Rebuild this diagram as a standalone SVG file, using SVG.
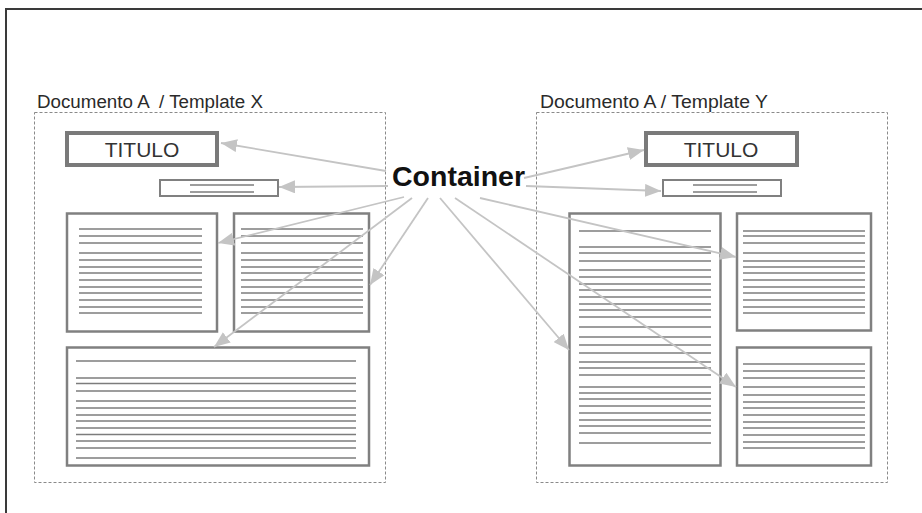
<svg xmlns="http://www.w3.org/2000/svg" width="922" height="513" viewBox="0 0 922 513">
  <style>
    .frame { fill: none; stroke: #3a3a3a; stroke-width: 2; }
    .doc { fill: none; stroke: #8a8a8a; stroke-width: 1; stroke-dasharray: 3 2; }
    .label { font-family: "Liberation Sans", Arial, sans-serif; font-size: 18px; fill: #2a2a2a; }
    .title-box { fill: #fff; stroke: #7a7a7a; stroke-width: 4; }
    .title-text { font-family: "Liberation Sans", Arial, sans-serif; font-size: 21px; fill: #333; text-anchor: middle; }
    .sub-box { fill: #fff; stroke: #808080; stroke-width: 2; }
    .block { fill: #fff; stroke: #808080; stroke-width: 2.5; }
    .rule { stroke: #7c7c7c; stroke-width: 1.4; }
    .hub { font-family: "Liberation Sans", Arial, sans-serif; font-size: 28px; font-weight: bold; fill: #111; }
    .conn { stroke: #c4c4c4; stroke-width: 1.8; fill: none; marker-end: url(#head); }
  </style>
  <defs>
    <marker id="head" markerUnits="userSpaceOnUse" markerWidth="17" markerHeight="13" refX="16" refY="6.5" orient="auto">
      <path d="M0,0 L16,6.5 L0,13 z" fill="#c4c4c4"/>
    </marker>
  </defs>

  <rect width="922" height="513" fill="#fff"/>
  <!-- outer frame: top and left edges only -->
  <path class="frame" d="M6,513 V9 H922"/>

  <!-- Template X -->
  <g id="doc-x">
    <text class="label" x="37" y="108" textLength="226" lengthAdjust="spacingAndGlyphs" xml:space="preserve">Documento A  / Template X</text>
    <rect class="doc" x="34.5" y="112.5" width="351" height="370"/>
  </g>
  <g id="x-title">
    <rect class="title-box" x="67" y="133" width="150" height="32"/>
    <text class="title-text" x="142" y="157">TITULO</text>
  </g>
  <g id="x-subtitle">
    <rect class="sub-box" x="160" y="180" width="118" height="16"/>
    <line class="rule" x1="190" y1="185" x2="254" y2="185"/>
    <line class="rule" x1="190" y1="192" x2="254" y2="192"/>
  </g>
  <g id="x-block-left">
    <rect class="block" x="67" y="213.5" width="150" height="118"/>
    <g class="rule">
      <line x1="79" y1="229" x2="202" y2="229"/>
      <line x1="79" y1="236" x2="202" y2="236"/>
      <line x1="79" y1="243" x2="202" y2="243"/>
      <line x1="79" y1="253" x2="202" y2="253"/>
      <line x1="79" y1="260" x2="202" y2="260"/>
      <line x1="79" y1="267" x2="202" y2="267"/>
      <line x1="79" y1="273" x2="202" y2="273"/>
      <line x1="79" y1="280" x2="202" y2="280"/>
      <line x1="79" y1="287" x2="202" y2="287"/>
      <line x1="79" y1="293" x2="202" y2="293"/>
      <line x1="79" y1="300" x2="202" y2="300"/>
      <line x1="79" y1="307" x2="202" y2="307"/>
      <line x1="79" y1="313" x2="202" y2="313"/>
    </g>
  </g>
  <g id="x-block-right">
    <rect class="block" x="234" y="213.5" width="135" height="118"/>
    <g class="rule">
      <line x1="241" y1="229" x2="363" y2="229"/>
      <line x1="241" y1="236" x2="363" y2="236"/>
      <line x1="241" y1="243" x2="363" y2="243"/>
      <line x1="241" y1="253" x2="363" y2="253"/>
      <line x1="241" y1="260" x2="363" y2="260"/>
      <line x1="241" y1="267" x2="363" y2="267"/>
      <line x1="241" y1="273" x2="363" y2="273"/>
      <line x1="241" y1="280" x2="363" y2="280"/>
      <line x1="241" y1="287" x2="363" y2="287"/>
      <line x1="241" y1="293" x2="363" y2="293"/>
      <line x1="241" y1="300" x2="363" y2="300"/>
      <line x1="241" y1="307" x2="363" y2="307"/>
      <line x1="241" y1="313" x2="363" y2="313"/>
    </g>
  </g>
  <g id="x-block-bottom">
    <rect class="block" x="67" y="347.5" width="302" height="118"/>
    <g class="rule">
      <line x1="76" y1="361" x2="356" y2="361"/>
      <line x1="76" y1="378" x2="356" y2="378"/>
      <line x1="76" y1="383.5" x2="356" y2="383.5"/>
      <line x1="76" y1="391" x2="356" y2="391"/>
      <line x1="76" y1="401" x2="356" y2="401"/>
      <line x1="76" y1="408" x2="356" y2="408"/>
      <line x1="76" y1="415" x2="356" y2="415"/>
      <line x1="76" y1="421" x2="356" y2="421"/>
      <line x1="76" y1="428" x2="356" y2="428"/>
      <line x1="76" y1="434.5" x2="356" y2="434.5"/>
      <line x1="76" y1="441" x2="356" y2="441"/>
      <line x1="76" y1="448" x2="356" y2="448"/>
      <line x1="76" y1="458" x2="356" y2="458"/>
    </g>
  </g>

  <!-- Template Y -->
  <g id="doc-y">
    <text class="label" x="540" y="108" textLength="228" lengthAdjust="spacingAndGlyphs">Documento A / Template Y</text>
    <rect class="doc" x="536.5" y="112.5" width="351" height="370"/>
  </g>
  <g id="y-title">
    <rect class="title-box" x="646" y="133" width="151" height="32"/>
    <text class="title-text" x="721" y="157">TITULO</text>
  </g>
  <g id="y-subtitle">
    <rect class="sub-box" x="663" y="180" width="118" height="16"/>
    <line class="rule" x1="693" y1="185" x2="757" y2="185"/>
    <line class="rule" x1="693" y1="192" x2="757" y2="192"/>
  </g>
  <g id="y-block-tall">
    <rect class="block" x="569.5" y="213.5" width="151" height="252"/>
    <g class="rule">
      <line x1="579" y1="231" x2="711" y2="231"/>
      <line x1="579" y1="247" x2="711" y2="247"/>
      <line x1="579" y1="253" x2="711" y2="253"/>
      <line x1="579" y1="261" x2="711" y2="261"/>
      <line x1="579" y1="270" x2="711" y2="270"/>
      <line x1="579" y1="277" x2="711" y2="277"/>
      <line x1="579" y1="284" x2="711" y2="284"/>
      <line x1="579" y1="290" x2="711" y2="290"/>
      <line x1="579" y1="297" x2="711" y2="297"/>
      <line x1="579" y1="304" x2="711" y2="304"/>
      <line x1="579" y1="310" x2="711" y2="310"/>
      <line x1="579" y1="317" x2="711" y2="317"/>
      <line x1="579" y1="327" x2="711" y2="327"/>
      <line x1="579" y1="337" x2="711" y2="337"/>
      <line x1="579" y1="345" x2="711" y2="345"/>
      <line x1="579" y1="353" x2="711" y2="353"/>
      <line x1="579" y1="362" x2="711" y2="362"/>
      <line x1="579" y1="368" x2="711" y2="368"/>
      <line x1="579" y1="375" x2="711" y2="375"/>
      <line x1="579" y1="387" x2="711" y2="387"/>
      <line x1="579" y1="393" x2="711" y2="393"/>
      <line x1="579" y1="399" x2="711" y2="399"/>
      <line x1="579" y1="406" x2="711" y2="406"/>
      <line x1="579" y1="413" x2="711" y2="413"/>
      <line x1="579" y1="420" x2="711" y2="420"/>
      <line x1="579" y1="426" x2="711" y2="426"/>
      <line x1="579" y1="433" x2="711" y2="433"/>
      <line x1="579" y1="443" x2="711" y2="443"/>
    </g>
  </g>
  <g id="y-block-top">
    <rect class="block" x="737" y="213.5" width="134" height="117"/>
    <g class="rule">
      <line x1="743" y1="231" x2="865" y2="231"/>
      <line x1="743" y1="236" x2="865" y2="236"/>
      <line x1="743" y1="243" x2="865" y2="243"/>
      <line x1="743" y1="253" x2="865" y2="253"/>
      <line x1="743" y1="261" x2="865" y2="261"/>
      <line x1="743" y1="267" x2="865" y2="267"/>
      <line x1="743" y1="273" x2="865" y2="273"/>
      <line x1="743" y1="280" x2="865" y2="280"/>
      <line x1="743" y1="287" x2="865" y2="287"/>
      <line x1="743" y1="293" x2="865" y2="293"/>
      <line x1="743" y1="300" x2="865" y2="300"/>
      <line x1="743" y1="307" x2="865" y2="307"/>
      <line x1="743" y1="313" x2="865" y2="313"/>
    </g>
  </g>
  <g id="y-block-bottom">
    <rect class="block" x="737" y="347.5" width="134" height="118"/>
    <g class="rule">
      <line x1="743" y1="364" x2="865" y2="364"/>
      <line x1="743" y1="371" x2="865" y2="371"/>
      <line x1="743" y1="378" x2="865" y2="378"/>
      <line x1="743" y1="387" x2="865" y2="387"/>
      <line x1="743" y1="395" x2="865" y2="395"/>
      <line x1="743" y1="402" x2="865" y2="402"/>
      <line x1="743" y1="408" x2="865" y2="408"/>
      <line x1="743" y1="415" x2="865" y2="415"/>
      <line x1="743" y1="422" x2="865" y2="422"/>
      <line x1="743" y1="428" x2="865" y2="428"/>
      <line x1="743" y1="435" x2="865" y2="435"/>
      <line x1="743" y1="442" x2="865" y2="442"/>
      <line x1="743" y1="448" x2="865" y2="448"/>
    </g>
  </g>

  <!-- connectors fanning out from the hub label -->
  <g id="connectors">
    <line class="conn" x1="386" y1="171" x2="221" y2="143"/>
    <line class="conn" x1="388" y1="186" x2="279" y2="187"/>
    <line class="conn" x1="404" y1="197" x2="218" y2="243"/>
    <line class="conn" x1="412" y1="198" x2="214" y2="347"/>
    <line class="conn" x1="428" y1="198" x2="370" y2="285"/>
    <line class="conn" x1="524" y1="178" x2="644" y2="150"/>
    <line class="conn" x1="526" y1="186" x2="661" y2="191"/>
    <line class="conn" x1="480" y1="198" x2="736" y2="257"/>
    <line class="conn" x1="455" y1="198" x2="736" y2="387"/>
    <line class="conn" x1="440" y1="198" x2="569" y2="350"/>
  </g>

  <g id="hub">
    <text class="hub" x="392" y="186" textLength="133" lengthAdjust="spacingAndGlyphs">Container</text>
  </g>
</svg>
